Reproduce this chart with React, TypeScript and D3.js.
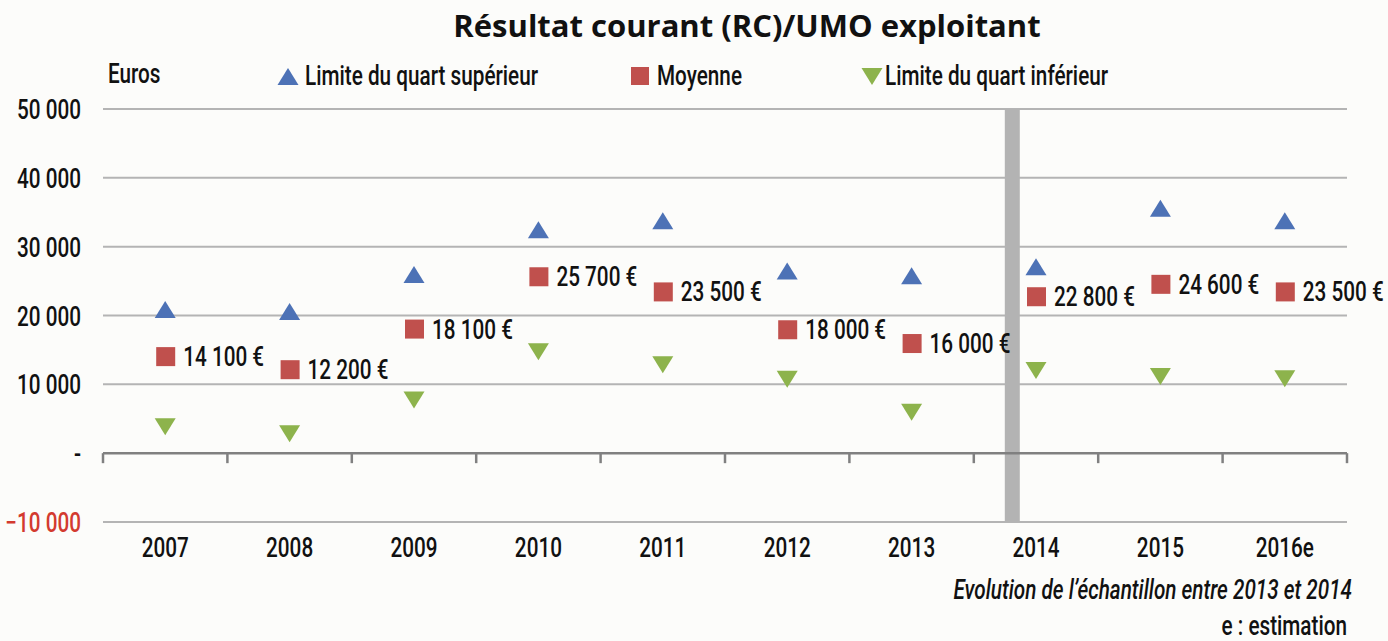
import React from "react";
import * as d3 from "d3";

const years = ["2007", "2008", "2009", "2010", "2011", "2012", "2013", "2014", "2015", "2016e"];
const upperQuartile = [20800, 20500, 25900, 32400, 33700, 26400, 25700, 27000, 35500, 33700];
const average = [14100, 12200, 18100, 25700, 23500, 18000, 16000, 22800, 24600, 23500];
const lowerQuartile = [3900, 2900, 7800, 14800, 12900, 10800, 6000, 12100, 11200, 10900];
const yTicks = [-10000, 0, 10000, 20000, 30000, 40000, 50000];

const W = 1388;
const H = 641;
const left = 103;
const right = 1347;
const font = "Roboto, 'DejaVu Sans Condensed', sans-serif";
const SX = 0.74; // squeeze to mimic the condensed face

const blue = "#4d72b6";
const red = "#c0504d";
const green = "#8db34c";

const fmt = (v: number) => d3.format(",")(v).replace(/,/g, " ");

function T({ x, y, anchor = "start", fill = "#111", italic = false, children }: any) {
  return (
    <text
      transform={`translate(${x},${y}) scale(${SX},1)`}
      textAnchor={anchor}
      fill={fill}
      fontFamily={font}
      fontWeight={500}
      fontSize={28}
      fontStyle={italic ? "italic" : "normal"}
    >
      {children}
    </text>
  );
}

export default function App() {
  const x = d3.scaleBand().domain(years).range([left, right]);
  const y = d3.scaleLinear().domain([-10000, 50000]).range([522, 109]);
  const cx = (yr: string) => (x(yr) as number) + x.bandwidth() / 2;

  const up = "M0,-9L10.5,8L-10.5,8Z";
  const down = "M-10.5,-8L10.5,-8L0,9Z";

  // grey bar marking the sample change between 2013 and 2014
  const barX = (x("2014") as number) + 31;

  return (
    <svg width={W} height={H} style={{ position: "absolute", left: 0, top: 0, background: "#fcfcfa" }}>
      <text x={747} y={37} textAnchor="middle" fontFamily="'Open Sans', Lato, sans-serif" fontWeight="bold" fontSize={31} fill="#111">
        Résultat courant (RC)/UMO exploitant
      </text>

      {/* legend */}
      <T x={108} y={83}>Euros</T>
      <path d={up} transform="translate(288,77)" fill={blue} />
      <T x={305} y={85}>Limite du quart supérieur</T>
      <rect x={631} y={67} width={18} height={18} fill={red} />
      <T x={657} y={85}>Moyenne</T>
      <path d={down} transform="translate(872,76)" fill={green} />
      <T x={885} y={85}>Limite du quart inférieur</T>

      {/* grid */}
      {yTicks.filter(t => t !== 0).map(t => (
        <line key={t} x1={left} x2={right} y1={y(t)} y2={y(t)} stroke="#b4b4b4" strokeWidth={2} />
      ))}
      <rect x={barX} y={y(50000)} width={15} height={y(-10000) - y(50000)} fill="#b3b3b3" />
      <line x1={left} x2={right} y1={y(0)} y2={y(0)} stroke="#808080" strokeWidth={2.5} />
      {years.concat(["end"]).map((yr, i) => {
        const tx = left + i * x.bandwidth();
        return <line key={yr} x1={tx} x2={tx} y1={y(0)} y2={y(0) + 10} stroke="#808080" strokeWidth={2.5} />;
      })}

      {/* y labels */}
      {yTicks.map(t => (
        <T key={t} x={81} y={y(t) + 10} anchor="end" fill={t < 0 ? "#d33a2f" : "#111"}>
          {t === 0 ? "-" : fmt(t)}
        </T>
      ))}

      {/* x labels */}
      {years.map(yr => (
        <T key={yr} x={cx(yr)} y={557} anchor="middle">{yr}</T>
      ))}

      {/* markers */}
      {years.map((yr, i) => (
        <g key={yr}>
          <path d={up} transform={`translate(${cx(yr)},${y(upperQuartile[i])})`} fill={blue} />
          <path d={down} transform={`translate(${cx(yr)},${y(lowerQuartile[i])})`} fill={green} />
          <rect x={cx(yr) - 9} y={y(average[i]) - 9} width={19} height={19} fill={red} />
          <T x={cx(yr) + 18} y={y(average[i]) + 10}>{fmt(average[i])} €</T>
        </g>
      ))}

      <T x={1352} y={599} anchor="end" italic>Evolution de l’échantillon entre 2013 et 2014</T>
      <T x={1347} y={635} anchor="end">e : estimation</T>
    </svg>
  );
}
